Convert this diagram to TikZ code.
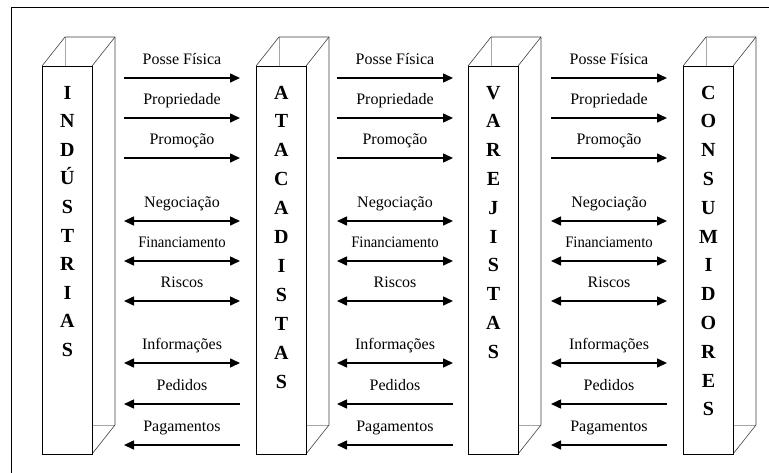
\documentclass[tikz,border=0pt]{standalone}
\usepackage{fontspec}
\setmainfont{Liberation Serif}
\usetikzlibrary{arrows.meta}
\begin{document}
\begin{tikzpicture}[x=1pt,y=-1pt,
  front/.style={draw=black,line width=0.9pt,fill=white},
  edge/.style={draw=black!75,line width=0.6pt},
  hidden/.style={draw=black!35,line width=0.8pt},
  letter/.style={font=\fontsize{20}{20}\selectfont\bfseries,anchor=base,inner sep=0pt},
  lbl/.style={font=\fontsize{16}{16}\selectfont,anchor=base,inner sep=0pt},
  rarr/.style={line width=1.5pt,-{Triangle[length=10pt,width=9pt]}},
  larr/.style={line width=1.5pt,{Triangle[length=10pt,width=9pt]}-},
  darr/.style={line width=1.5pt,{Triangle[length=10pt,width=9pt]}-{Triangle[length=10pt,width=9pt]}}]
\useasboundingbox (0,0) rectangle (769,472);
\fill[white] (0,0) rectangle (769,472);
% outer frame (top and left)
\draw[line width=0.9pt] (11,480) -- (11,7) -- (780,7);
% boxes
\foreach \L/\nm in {42/b1,256/b2,468/b3,683/b4}{
  \draw[hidden] (\L+23,37) -- (\L+23,66);
  \draw[hidden] (\L+50,425) -- (\L+73,425);
  \draw[edge] (\L,66) -- (\L+23,37) -- (\L+73,37) -- (\L+73,425) -- (\L+50,454);
  \draw[edge] (\L+50,66) -- (\L+73,37);
  \node[front,minimum width=50pt,minimum height=388pt,inner sep=0pt,anchor=north west] (\nm) at (\L,66) {};
}
\foreach \ch [count=\i from 0] in {I,N,D,Ú,S,T,R,I,A,S}
  \node[letter] (i\i) at ([yshift=-33pt]b1.north) [yshift=-28.6*\i pt] {\ch};
\foreach \ch [count=\i from 0] in {A,T,A,C,A,D,I,S,T,A,S}
  \node[letter] (a\i) at ([yshift=-33pt]b2.north) [yshift=-28.9*\i pt] {\ch};
\foreach \ch [count=\i from 0] in {V,A,R,E,J,I,S,T,A,S}
  \node[letter] (v\i) at ([yshift=-33pt]b3.north) [yshift=-28.8*\i pt] {\ch};
\foreach \ch [count=\i from 0] in {C,O,N,S,U,M,I,D,O,R,E,S}
  \node[letter] (c\i) at ([yshift=-33pt]b4.north) [yshift=-28.8*\i pt] {\ch};
% flows
\foreach \dx [count=\p] in {0,213,427}{
  \foreach \y/\txt/\st [count=\k] in {78/Posse Física/rarr,118/Propriedade/rarr,158/Promoção/rarr,
      221/Negociação/darr,261/\scalebox{0.92}[1]{Financiamento}/darr,301/Riscos/darr,
      363/Informações/darr,404/Pedidos/larr,445/Pagamentos/larr}{
    \coordinate (s\p-\k) at (124+\dx,\y);
    \coordinate (e\p-\k) at (240+\dx,\y);
    \node[lbl] (t\p-\k) at (182+\dx,\y-14) {\txt};
    \draw[\st] (s\p-\k) -- (e\p-\k);
  }
}
\end{tikzpicture}
\end{document}
